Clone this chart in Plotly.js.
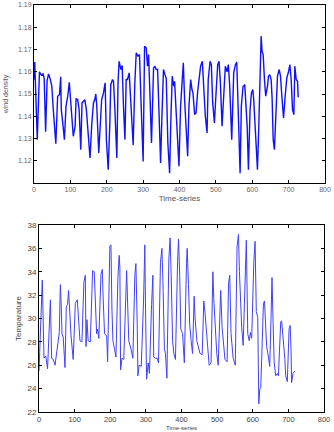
<!DOCTYPE html>
<html>
<head>
<meta charset="utf-8">
<script src="https://cdn.plot.ly/plotly-3.0.1.min.js"></script>
<style>html,body{margin:0;padding:0;background:#fff;}#chart{width:334px;height:432px;}</style>
</head>
<body>
<div id="chart"></div>
<script>
// Top panel: wind density vs time step
const windT = [0,2,9,15,20,25,28,32,36,40,44,49,53,60,65,70,73.5,75,79,83.6,88,92.7,97,101,104.7,108,113,115.7,120,124,128.6,132,136,139.6,144,148,154,159,163.5,167,170,172.6,178,182,186,191,195.6,199,204,208.5,211,215.8,218.5,222,227.7,231,234,239,242.4,246,250,253.4,257,261.7,266,272.7,277,281,285.6,290,294,300,304,308.5,312,315,318.6,323,328.7,332.4,336,339.8,343.4,348,351.7,356,360,363.6,368,372.8,376.5,380,384,386.6,390,395,398.5,403,406.8,410.5,414,418,422.4,426,430.7,434.3,437,441.7,445.4,450,453.6,458,462.8,466.5,471,475.7,479,484,487.6,491.3,496,499.5,505,508.7,512.4,517,521.6,526,530.7,534.4,538,543.6,549,553.7,557.4,560,564,566.6,570,574.8,579.4,582,586,589.5,594,597.8,601.5,604,607,611.6,614.3,618,621.7,624.4,627,630,633.6,637,641.9,644.6,648,652,654.7,657.5,661,664.8,669.4,674,677.7,681.4,686,690.5,695,699.7,703.4,707,710.7,714.4,717,720.8,724.5,726.3];
const windDensity = [1.1565,1.1644,1.1295,1.160,1.1585,1.159,1.157,1.133,1.156,1.159,1.157,1.1535,1.143,1.1277,1.149,1.1497,1.1577,1.143,1.137,1.1295,1.1445,1.149,1.1553,1.146,1.137,1.131,1.1355,1.1478,1.1475,1.143,1.125,1.146,1.1467,1.1475,1.143,1.1347,1.1212,1.137,1.146,1.1475,1.150,1.1445,1.1235,1.1355,1.1475,1.1505,1.155,1.1295,1.116,1.137,1.1542,1.1565,1.1557,1.1445,1.1212,1.155,1.1647,1.161,1.1628,1.1445,1.1295,1.1565,1.1565,1.1595,1.1445,1.127,1.1542,1.1685,1.167,1.1677,1.1475,1.1197,1.1715,1.1708,1.1625,1.1677,1.1505,1.128,1.1617,1.1625,1.161,1.161,1.143,1.119,1.140,1.161,1.1587,1.157,1.128,1.1144,1.140,1.158,1.1535,1.1557,1.1445,1.127,1.1175,1.1445,1.1565,1.164,1.1475,1.1355,1.122,1.1445,1.1565,1.152,1.1505,1.1407,1.1415,1.1512,1.158,1.1625,1.1647,1.152,1.140,1.1325,1.1565,1.1647,1.1632,1.146,1.137,1.1475,1.1632,1.1647,1.155,1.1355,1.1475,1.1625,1.160,1.1632,1.1535,1.1295,1.1595,1.1632,1.1643,1.1475,1.1182,1.1144,1.1445,1.1535,1.1542,1.1475,1.1355,1.116,1.143,1.1505,1.152,1.1475,1.137,1.1205,1.116,1.1355,1.1625,1.176,1.1692,1.1677,1.1565,1.149,1.1535,1.158,1.1587,1.1565,1.1475,1.1295,1.125,1.1445,1.158,1.161,1.158,1.149,1.1392,1.149,1.1572,1.160,1.1632,1.1565,1.143,1.1407,1.1625,1.1565,1.1557,1.1485];

// Bottom panel: temperature vs time step
const tempT = [0,9.3,14,19,24,32,35.5,40,45,57,59,60,62.6,64.5,68,73,76.6,80,83,87,90,96,100,102,107.5,112,115,120.5,126,130,132,134.6,138,144,150.5,155,158,161.7,164.5,168,174,177.6,180,184,190,192.5,199,202,204.7,207.5,212,216,221.5,225,227,229,233,238,246,248.6,252,258,263.5,269,272,275.7,277.6,281,287,293.5,297,299,302,306.5,310,316,319.6,322,327,332,335.5,341,345,348.6,352,355,359,364.5,368,371,375,378.5,383,389,391.6,395,398,403,405.6,408,414,416,419.6,423,427,431,435.5,438,443,447.6,452,458,462.6,466,470,474,477.6,483,488,490.6,494,499,503,508,510,514,518,522,528,532,535.5,539,545,551,556,560,562.6,565.4,569,573,575,579,582,586,590,593.5,597,603,606.5,610,614,617,619.6,622.5,627,630,633,635.5,639,644,647.7,652,654,657,660,664.5,669,672,678.5,681,686,690,692.5,697,702,705,707.5,709,713,717.8];
const temperature = [25.5,33.3,26.6,26.8,25.7,31.6,26.6,26.5,26.0,28.8,31.7,32.9,30.9,28.7,28.4,25.8,31.0,31.2,32.4,29.5,28.5,26.5,30.2,31.3,31.6,29.0,28.1,28.0,33.1,33.7,27.6,29.9,28.1,28.0,34.1,34.0,30.6,28.7,29.1,28.3,33.8,34.2,31.8,28.7,28.5,26.3,36.2,36.3,30.9,28.1,27.4,26.7,33.5,35.4,34.4,25.6,26.6,26.5,34.1,31.2,28.1,27.4,26.6,33.7,34.7,29.5,25.1,26.0,25.9,31.5,36.3,30.9,24.8,26.2,25.3,31.2,33.7,26.7,26.6,26.6,26.2,34.8,36.0,32.3,27.4,27.0,24.9,35.1,36.9,33.7,28.1,27.0,26.5,34.9,36.8,33.7,29.1,28.7,27.6,26.2,34.7,36.0,32.9,29.5,28.1,27.0,31.9,30.1,28.1,27.4,27.0,26.9,31.5,30.5,28.7,27.6,26.0,26.2,34.0,31.7,29.2,27.0,26.0,32.3,32.4,29.2,27.6,26.5,26.3,33.0,33.7,28.7,26.6,26.0,36.2,37.2,34.0,31.2,29.2,27.7,29.4,34.2,36.7,28.7,28.1,28.8,28.3,34.8,36.6,30.6,30.1,22.7,23.9,24.1,29.2,31.3,31.5,29.5,27.6,26.7,25.9,30.9,33.5,29.8,26.3,25.1,25.3,25.1,29.7,29.8,28.1,26.6,25.1,24.6,29.1,29.4,27.3,24.5,25.3,25.5];

const xTicks = [0,100,200,300,400,500,600,700,800];
const windTicks = [1.12,1.13,1.14,1.15,1.16,1.17,1.18,1.19];
const tempTicks = [22,24,26,28,30,32,34,36,38];

const W = 334, H = 432;
const axisCommon = {
  showline: true, linecolor: '#000', linewidth: 1, mirror: 'ticks',
  ticks: 'inside', ticklen: 3, tickcolor: '#000', showgrid: false, zeroline: false,
  automargin: false
};

const traces = [
  {x: windT, y: windDensity, type: 'scatter', mode: 'lines', xaxis: 'x', yaxis: 'y',
   line: {color: '#1010ff', width: 1.4}, hoverinfo: 'skip'},
  {x: tempT, y: temperature, type: 'scatter', mode: 'lines', xaxis: 'x2', yaxis: 'y2',
   line: {color: '#4040ff', width: 1}, hoverinfo: 'skip'}
];

const layout = {
  width: W, height: H,
  margin: {l: 0, r: 0, t: 0, b: 0},
  paper_bgcolor: '#fff', plot_bgcolor: '#fff',
  showlegend: false,
  font: {family: 'Liberation Sans, Arial, sans-serif', color: '#555'},
  xaxis: Object.assign({}, axisCommon, {
    domain: [34/W, 325/W], anchor: 'y', range: [0, 800],
    tickvals: xTicks, ticktext: xTicks.map(String),
    tickfont: {size: 7, color: '#666'},
    title: {text: 'Time-series', font: {size: 8, color: '#555'}, standoff: 2}
  }),
  yaxis: Object.assign({}, axisCommon, {
    domain: [1 - 183/H, 1 - 5/H], anchor: 'x', range: [1.11, 1.19],
    tickvals: windTicks, ticktext: windTicks.map(v => v.toFixed(2)),
    tickfont: {size: 7, color: '#666'},
    title: {text: 'wind density', font: {size: 7, color: '#555'}, standoff: 8}
  }),
  xaxis2: Object.assign({}, axisCommon, {
    domain: [39/W, 324/W], anchor: 'y2', range: [0, 800],
    tickvals: xTicks, ticktext: xTicks.map(String),
    tickfont: {size: 7.5, color: '#444'}
  }),
  yaxis2: Object.assign({}, axisCommon, {
    domain: [1 - 412/H, 1 - 225/H], anchor: 'x2', range: [22, 38],
    tickvals: tempTicks, ticktext: tempTicks.map(String),
    tickfont: {size: 8, color: '#444'},
    title: {text: 'Temparature', font: {size: 8, color: '#444'}, standoff: 4}
  }),
  annotations: [{
    text: 'Time-series', xref: 'paper', yref: 'paper',
    x: (39 + 324) / 2 / W, y: 0, xanchor: 'center', yanchor: 'bottom',
    showarrow: false, font: {size: 6, color: '#444'}, borderpad: 0
  }]
};

Plotly.newPlot('chart', traces, layout, {staticPlot: true, displayModeBar: false});
</script>
</body>
</html>
